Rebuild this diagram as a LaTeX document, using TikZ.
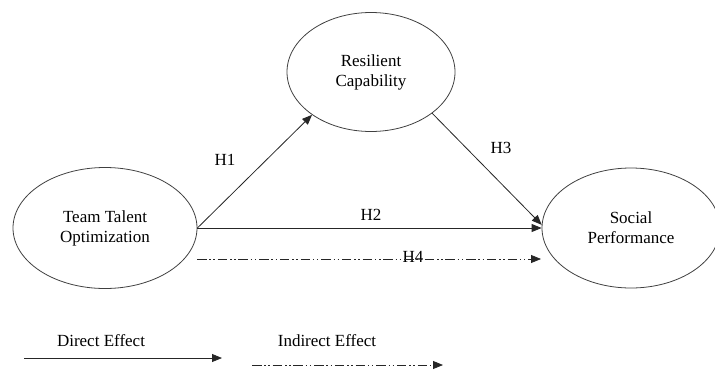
\documentclass[tikz,border=0pt]{standalone}
\usepackage{fontspec}
\setmainfont{Liberation Serif}
\usetikzlibrary{shapes.geometric, arrows.meta}
\tikzstyle{Construct}=[ellipse, draw=black!75, line width=0.8pt, inner sep=0pt, align=center, font=\fontsize{17}{20}\selectfont]
\tikzstyle{Hyp}=[inner sep=0pt, font=\fontsize{17}{20}\selectfont]
\tikzstyle{Direct}=[-{Triangle[length=10pt, width=8pt]}, line width=0.8pt, draw=black!85]
\tikzstyle{Indirect}=[Direct, dash pattern=on 9.5pt off 2.8pt on 1.5pt off 2.6pt on 1.5pt off 2.8pt]

\begin{document}
\begin{tikzpicture}[x=1pt, y=-1pt]
	\useasboundingbox (0,0) rectangle (715,370);

	%Nodes
	\node[Construct, minimum width=184pt, minimum height=121pt]	(talent)		at (105,228)	{Team Talent\\Optimization};
	\node[Construct, minimum width=168pt, minimum height=119pt]	(resilience)	at (371,72)		{Resilient\\Capability};
	\node[Construct, minimum width=178pt, minimum height=120pt]	(social)		at (631,228)	{Social\\Performance};

	\node[Hyp]	(h1)	at (225,160)	{H1};
	\node[Hyp]	(h2)	at (371,215)	{H2};
	\node[Hyp]	(h3)	at (501,148)	{H3};
	\node[Hyp]	(h4)	at (413,257)	{H4};

	\coordinate	(h4start)	at (197,259);
	\coordinate	(h4end)		at (541,259);

	%Legend
	\node[Hyp]	(directlabel)	at (101,341)	{Direct Effect};
	\node[Hyp]	(indirectlabel)	at (327,341)	{Indirect Effect};
	\coordinate	(directstart)	at (24,358);
	\coordinate	(directend)		at (222,358);
	\coordinate	(indirectstart)	at (252,365);
	\coordinate	(indirectend)	at (443,365);

	%Lines
	\draw[Direct] (talent.east) -- (resilience.216);
	\draw[Direct] (talent.east) -- (social.west);
	\draw[Direct] (resilience.326) -- (social.178);
	\draw[Indirect] (h4start) -- (h4end);

	\draw[Direct] (directstart) -- (directend);
	\draw[Indirect] (indirectstart) -- (indirectend);

\end{tikzpicture}
\end{document}
